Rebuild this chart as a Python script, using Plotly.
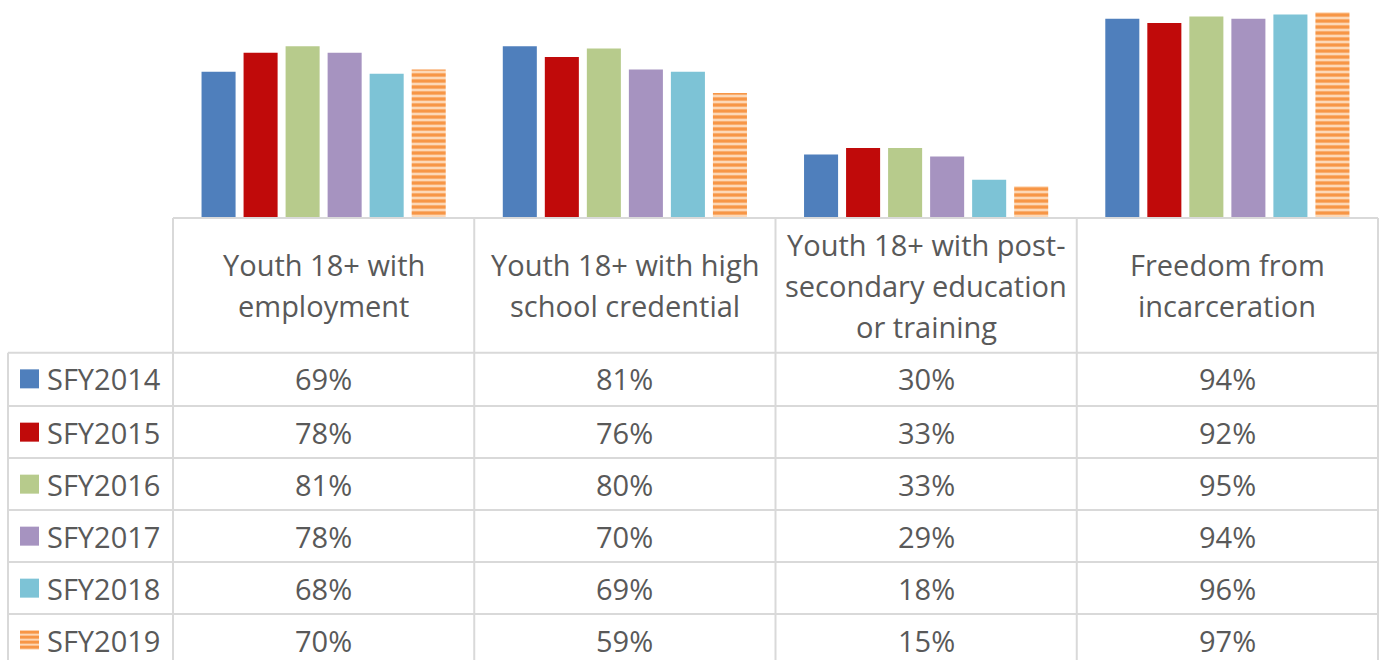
import plotly.graph_objects as go

# Data
CATEGORIES = [
    "Youth 18+ with<br>employment",
    "Youth 18+ with high<br>school credential",
    "Youth 18+ with post-<br>secondary education<br>or training",
    "Freedom from<br>incarceration",
]
SERIES = ["SFY2014", "SFY2015", "SFY2016", "SFY2017", "SFY2018", "SFY2019"]
SFY2014 = [69, 81, 30, 94]
SFY2015 = [78, 76, 33, 92]
SFY2016 = [81, 80, 33, 95]
SFY2017 = [78, 70, 29, 94]
SFY2018 = [68, 69, 18, 96]
SFY2019 = [70, 59, 15, 97]
VALUES = [SFY2014, SFY2015, SFY2016, SFY2017, SFY2018, SFY2019]

COLORS = ["#4F7FBC", "#C00A0A", "#B7CB8C", "#A693C0", "#7DC3D6", "#F79646"]
STRIPE_BG = "#FDD8B6"

W, H = 1383, 660
PLOT_LEFT, PLOT_RIGHT = 173, 1378
PLOT_TOP, PLOT_BOTTOM = 6, 218

FONT = "Open Sans"
FSIZE = 29
TXT = "#595959"
GRID = "#D9D9D9"


def px_x(px):
    # pixel x -> paper x
    return (px - PLOT_LEFT) / (PLOT_RIGHT - PLOT_LEFT)


def px_y(py):
    # pixel y -> paper y
    return (PLOT_BOTTOM - py) / (PLOT_BOTTOM - PLOT_TOP)


def cat_x(k):
    # category centre -> paper x
    return (k + 0.5) / len(CATEGORIES)


fig = go.Figure()

x_idx = list(range(len(CATEGORIES)))
for i, (name, vals) in enumerate(zip(SERIES, VALUES)):
    marker = dict(color=COLORS[i], line=dict(width=0))
    if name == "SFY2019":
        marker["pattern"] = dict(shape="-", fgcolor=COLORS[i], bgcolor=STRIPE_BG,
                                 size=6, solidity=0.55, fillmode="replace")
    fig.add_trace(go.Bar(
        x=x_idx, y=vals, name=name, marker=marker,
        hovertemplate="%{y}%<extra>" + name + "</extra>",
        showlegend=False,
    ))

# Table geometry
ROW_TOPS = [352.7, 406, 458, 510, 562, 614]
ROW_H = 52.3
TABLE_LEFT = 8
shapes = []
line = dict(color=GRID, width=2)

# horizontal lines
shapes.append(dict(type="line", xref="paper", yref="paper",
                   x0=0, x1=1, y0=0, y1=0, line=line))
for t in ROW_TOPS:
    shapes.append(dict(type="line", xref="paper", yref="paper",
                       x0=px_x(TABLE_LEFT), x1=1,
                       y0=px_y(t), y1=px_y(t), line=line))
# vertical lines
shapes.append(dict(type="line", xref="paper", yref="paper",
                   x0=px_x(TABLE_LEFT), x1=px_x(TABLE_LEFT),
                   y0=px_y(ROW_TOPS[0]), y1=px_y(H + 5), line=line))
for k in range(len(CATEGORIES) + 1):
    xx = k / len(CATEGORIES)
    shapes.append(dict(type="line", xref="paper", yref="paper",
                       x0=xx, x1=xx, y0=0, y1=px_y(H + 5), line=line))

annotations = []
# header cells
header_mid = (PLOT_BOTTOM + ROW_TOPS[0]) / 2
LINE_STEP = 41
for k, cat in enumerate(CATEGORIES):
    parts = cat.split("<br>")
    for j, part in enumerate(parts):
        yc = header_mid + (j - (len(parts) - 1) / 2) * LINE_STEP
        annotations.append(dict(xref="paper", yref="paper", x=cat_x(k), y=px_y(yc),
                                text=part, showarrow=False,
                                xanchor="center", yanchor="middle",
                                font=dict(family=FONT, size=FSIZE, color=TXT)))

# body rows: legend key, series name, values
KEY = 19
for r, (name, vals) in enumerate(zip(SERIES, VALUES)):
    yc = ROW_TOPS[r] + ROW_H / 2
    if name == "SFY2019":
        shapes.append(dict(type="rect", xref="paper", yref="paper",
                           x0=px_x(20), x1=px_x(20 + KEY),
                           y0=px_y(yc - KEY / 2), y1=px_y(yc + KEY / 2),
                           fillcolor=STRIPE_BG, line=dict(width=0)))
        for s in range(4):
            top = yc - KEY / 2 + s * 5
            shapes.append(dict(type="rect", xref="paper", yref="paper",
                               x0=px_x(20), x1=px_x(20 + KEY),
                               y0=px_y(top), y1=px_y(top + 3),
                               fillcolor=COLORS[r], line=dict(width=0)))
    else:
        shapes.append(dict(type="rect", xref="paper", yref="paper",
                           x0=px_x(20), x1=px_x(20 + KEY),
                           y0=px_y(yc - KEY / 2), y1=px_y(yc + KEY / 2),
                           fillcolor=COLORS[r], line=dict(width=0)))
    annotations.append(dict(xref="paper", yref="paper", x=px_x(45), y=px_y(yc),
                            text=name, showarrow=False,
                            xanchor="left", yanchor="middle",
                            font=dict(family=FONT, size=FSIZE, color=TXT)))
    for k, v in enumerate(vals):
        annotations.append(dict(xref="paper", yref="paper", x=cat_x(k), y=px_y(yc),
                                text=f"{v}%", showarrow=False,
                                xanchor="center", yanchor="middle",
                                font=dict(family=FONT, size=FSIZE, color=TXT)))

fig.update_layout(
    width=W, height=H,
    barmode="group",
    bargap=0.163,
    bargroupgap=0.19,
    paper_bgcolor="white",
    plot_bgcolor="white",
    margin=dict(l=PLOT_LEFT, r=W - PLOT_RIGHT, t=PLOT_TOP, b=H - PLOT_BOTTOM),
    xaxis=dict(range=[-0.5, len(CATEGORIES) - 0.5], showticklabels=False,
               showgrid=False, zeroline=False, showline=False, ticks=""),
    yaxis=dict(range=[0, 100], showticklabels=False, showgrid=False,
               zeroline=False, showline=False, ticks=""),
    shapes=shapes,
    annotations=annotations,
)

fig.write_html("out.html", config={"displayModeBar": False},
               post_script="document.body.style.margin='0px';")
